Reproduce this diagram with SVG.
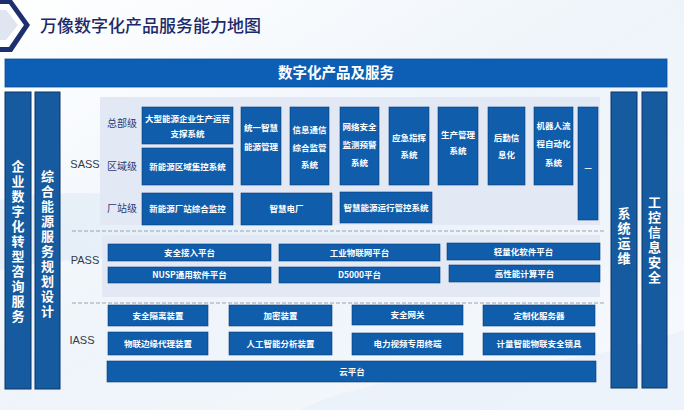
<svg xmlns="http://www.w3.org/2000/svg" width="684" height="410" viewBox="0 0 684 410">
<defs>
<linearGradient id="bg" x1="0" y1="0" x2="1" y2="1">
<stop offset="0" stop-color="#ffffff"/>
<stop offset="0.5" stop-color="#eef4fa"/>
<stop offset="1" stop-color="#f7fafd"/>
</linearGradient>
<linearGradient id="wave" x1="0" y1="0" x2="1" y2="0">
<stop offset="0" stop-color="#d8e7f4" stop-opacity="0.9"/>
<stop offset="1" stop-color="#e9f1f9" stop-opacity="0.3"/>
</linearGradient>
<style>
.bx{fill:#0f5dab;stroke:#0a3f7a;stroke-width:0.6}
.col{fill:#165a9f;stroke:#0c3566;stroke-width:1}
.bt{font-family:"Noto Sans CJK SC","Liberation Sans",sans-serif;font-size:8.5px;font-weight:700;fill:#ffffff;text-anchor:middle}
.ct{font-family:"Noto Sans CJK SC","Liberation Sans",sans-serif;font-size:13px;font-weight:700;fill:#ffffff;text-anchor:middle;writing-mode:vertical-rl;text-orientation:upright;letter-spacing:2px}
.lv{font-family:"Noto Sans CJK SC","Liberation Sans",sans-serif;font-size:10px;fill:#2b3a72;text-anchor:middle}
.ly{font-family:"Liberation Sans","Noto Sans CJK SC",sans-serif;font-size:11px;fill:#333a48;text-anchor:middle}
.dash{stroke:#9aa3b0;stroke-width:1;stroke-dasharray:4 2;fill:none}
.pn{fill:#e3e8f5}
</style>
</defs>
<rect width="684" height="410" fill="url(#bg)"/>
<path d="M0 200 C150 170 300 250 684 190 L684 260 C400 300 200 230 0 270 Z" fill="url(#wave)" opacity="0.6"/>
<path d="M300 410 C400 360 550 380 684 330 L684 410 Z" fill="#e6eff8" opacity="0.6"/>

<g id="logo">
<polygon points="0,0 12,0 30,25 12,52 0,52 0,47 9,47 24,25 9,4 0,4" fill="#1d2f6e"/>
<polygon points="0,6 8,6 22,25 8,45 0,45" fill="#ffffff"/>
<polygon points="0,10 6,10 18,25 6,40 0,40" fill="#dfe6f2"/>
</g>
<text id="title" x="40" y="32" font-family="Noto Sans CJK SC,Liberation Sans,sans-serif" font-size="17" font-weight="500" fill="#1b2a6b">万像数字化产品服务能力地图</text>

<g id="top-bar">
<rect x="5" y="59" width="662" height="28" fill="#0d5fb5" stroke="#0a4d94" stroke-width="0.8"/>
<text x="336" y="78" font-family="Noto Sans CJK SC,Liberation Sans,sans-serif" font-size="14.5" font-weight="700" fill="#ffffff" text-anchor="middle">数字化产品及服务</text>
</g>

<g id="left-col-1">
<rect class="col" x="5" y="92" width="26" height="297"/>
<text class="ct" x="18" y="242">企业数字化转型咨询服务</text>
</g>
<g id="left-col-2">
<rect class="col" x="35" y="92" width="25" height="297"/>
<text class="ct" x="47.5" y="245">综合能源服务规划设计</text>
</g>
<g id="right-col-1">
<rect class="col" x="611" y="92" width="26" height="296"/>
<text class="ct" x="624" y="237">系统运维</text>
</g>
<g id="right-col-2">
<rect class="col" x="642" y="92" width="25" height="296"/>
<text class="ct" x="654.5" y="241">工控信息安全</text>
</g>

<g id="panels">
<rect class="pn" x="100" y="97" width="500" height="128"/>
<rect class="pn" x="102" y="235" width="498" height="62"/>
</g>
<g id="connectors">
<line class="dash" x1="72" y1="231" x2="604" y2="231"/>
<line class="dash" x1="72" y1="303" x2="604" y2="303"/>
</g>

<g id="layer-labels">
<text class="ly" x="85" y="168">SASS</text>
<text class="ly" x="85" y="264">PASS</text>
<text class="ly" x="82" y="344">IASS</text>
<text class="lv" x="122" y="127">总部级</text>
<text class="lv" x="122" y="170">区域级</text>
<text class="lv" x="122" y="212">厂站级</text>
</g>

<g id="sass-1"><rect class="bx" x="142" y="107" width="91" height="37"/><text class="bt"><tspan x="187.5" y="122">大型能源企业生产运营</tspan><tspan x="187.5" y="137">支撑系统</tspan></text></g>
<g id="sass-2"><rect class="bx" x="142" y="148" width="91" height="37"/><text class="bt" x="187.5" y="170">新能源区域集控系统</text></g>
<g id="sass-3"><rect class="bx" x="142" y="193" width="91" height="32"/><text class="bt" x="187.5" y="212">新能源厂站综合监控</text></g>
<g id="sass-4"><rect class="bx" x="241" y="107" width="40" height="78"/><text class="bt"><tspan x="261" y="131">统一智慧</tspan><tspan x="261" y="150">能源管理</tspan></text></g>
<g id="sass-5"><rect class="bx" x="290" y="107" width="39" height="78"/><text class="bt"><tspan x="309.5" y="133">信息通信</tspan><tspan x="309.5" y="151">综合监管</tspan><tspan x="309.5" y="168">系统</tspan></text></g>
<g id="sass-6"><rect class="bx" x="241" y="193" width="91" height="32"/><text class="bt" x="286.5" y="212">智慧电厂</text></g>
<g id="sass-7"><rect class="bx" x="340" y="107" width="39" height="78"/><text class="bt"><tspan x="359.5" y="130">网络安全</tspan><tspan x="359.5" y="148">监测预警</tspan><tspan x="359.5" y="166">系统</tspan></text></g>
<g id="sass-8"><rect class="bx" x="389" y="107" width="40" height="78"/><text class="bt"><tspan x="409" y="141">应急指挥</tspan><tspan x="409" y="158">系统</tspan></text></g>
<g id="sass-9"><rect class="bx" x="438" y="107" width="40" height="78"/><text class="bt"><tspan x="458" y="138">生产管理</tspan><tspan x="458" y="154">系统</tspan></text></g>
<g id="sass-10"><rect class="bx" x="488" y="107" width="37" height="78"/><text class="bt"><tspan x="506.5" y="141">后勤信</tspan><tspan x="506.5" y="158">息化</tspan></text></g>
<g id="sass-11"><rect class="bx" x="534" y="107" width="39" height="78"/><text class="bt"><tspan x="553.5" y="129">机器人流</tspan><tspan x="553.5" y="147">程自动化</tspan><tspan x="553.5" y="166">系统</tspan></text></g>
<g id="sass-12"><rect class="bx" x="578" y="107" width="20" height="113"/><text class="bt" x="588" y="171">—</text></g>
<g id="sass-13"><rect class="bx" x="340" y="192" width="92" height="31"/><text class="bt" x="386" y="211">智慧能源运行管控系统</text></g>

<g id="pass-1"><rect class="bx" x="108" y="244" width="163" height="17"/><text class="bt" x="189.5" y="255.5">安全接入平台</text></g>
<g id="pass-2"><rect class="bx" x="108" y="267" width="163" height="16"/><text class="bt" x="189.5" y="278">NUSP通用软件平台</text></g>
<g id="pass-3"><rect class="bx" x="279" y="244" width="161" height="17"/><text class="bt" x="359.5" y="255.5">工业物联网平台</text></g>
<g id="pass-4"><rect class="bx" x="279" y="267" width="161" height="16"/><text class="bt" x="359.5" y="278">D5000平台</text></g>
<g id="pass-5"><rect class="bx" x="447" y="243" width="153" height="17"/><text class="bt" x="523.5" y="254.5">轻量化软件平台</text></g>
<g id="pass-6"><rect class="bx" x="449" y="265" width="151" height="17"/><text class="bt" x="524.5" y="276.5">高性能计算平台</text></g>

<g id="iass-1"><rect class="bx" x="108" y="305" width="100" height="21"/><text class="bt" x="158" y="318.5">安全隔离装置</text></g>
<g id="iass-2"><rect class="bx" x="108" y="332" width="100" height="23"/><text class="bt" x="158" y="346.5">物联边缘代理装置</text></g>
<g id="iass-3"><rect class="bx" x="229" y="305" width="103" height="21"/><text class="bt" x="280.5" y="318.5">加密装置</text></g>
<g id="iass-4"><rect class="bx" x="229" y="332" width="103" height="23"/><text class="bt" x="280.5" y="346.5">人工智能分析装置</text></g>
<g id="iass-5"><rect class="bx" x="352" y="305" width="111" height="20"/><text class="bt" x="407.5" y="318">安全网关</text></g>
<g id="iass-6"><rect class="bx" x="352" y="333" width="111" height="22"/><text class="bt" x="407.5" y="347">电力视频专用终端</text></g>
<g id="iass-7"><rect class="bx" x="483" y="305" width="112" height="21"/><text class="bt" x="539" y="318.5">定制化服务器</text></g>
<g id="iass-8"><rect class="bx" x="483" y="333" width="112" height="22"/><text class="bt" x="539" y="347">计量智能物联安全锁具</text></g>
<g id="iass-9"><rect class="bx" x="107" y="361" width="489" height="21"/><text class="bt" x="352" y="374.5">云平台</text></g>
</svg>
